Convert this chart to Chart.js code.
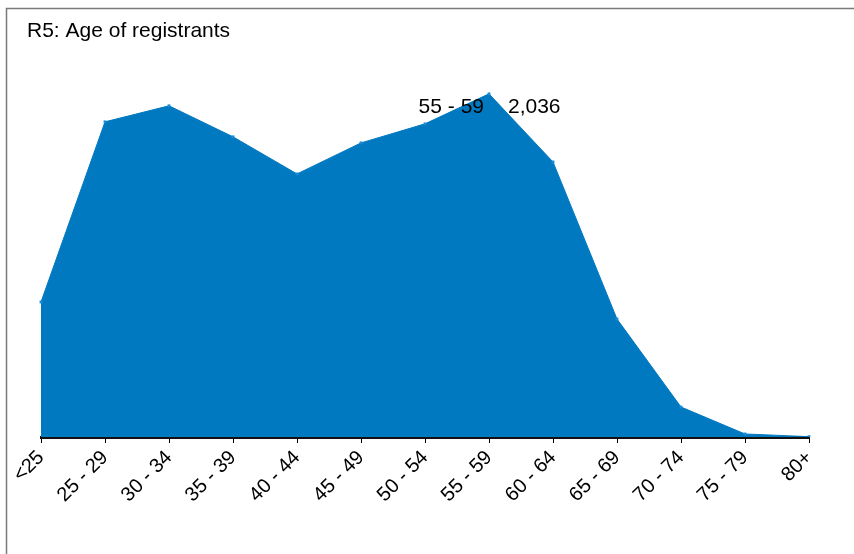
<!DOCTYPE html>
<html>
<head>
<meta charset="utf-8">
<script src="https://cdn.jsdelivr.net/npm/chart.js@4/dist/chart.umd.min.js"></script>
<style>
  html, body { margin: 0; padding: 0; background: #fff; }
  #wrap { position: absolute; left: 0; top: 0; width: 854px; height: 554px; }
</style>
</head>
<body>
<div id="wrap"><canvas id="ageChart" width="854" height="554"></canvas></div>
<script>
// age bands and registrant counts
const ageLabels = ['<25', '25 - 29', '30 - 34', '35 - 39', '40 - 44', '45 - 49', '50 - 54', '55 - 59', '60 - 64', '65 - 69', '70 - 74', '75 - 79', '80+'];
const registrants = [801, 1870, 1965, 1781, 1561, 1745, 1858, 2036, 1632, 700, 178, 18, 2];
const highlightIndex = 7;
const chartTitle = 'R5: Age of registrants';

const blue = '#0079c1';
const font = '"Liberation Sans", Arial, sans-serif';

// frame lines on the left and top edge, plus the title
const framePlugin = {
    id: 'frame',
    beforeDraw(chart) {
        const ctx = chart.ctx;
        ctx.save();
        ctx.strokeStyle = '#7a7a7a';
        ctx.lineWidth = 1.5;
        ctx.beginPath();
        ctx.moveTo(6.5, 554);
        ctx.lineTo(6.5, 8.5);
        ctx.lineTo(854, 8.5);
        ctx.stroke();
        ctx.font = '21px ' + font;
        ctx.fillStyle = '#000';
        ctx.textBaseline = 'middle';
        ctx.fillText(chartTitle, 27, 31);
        ctx.restore();
    },
};

// "55 - 59   2,036" label next to the peak
const peakLabel = {
    id: 'peakLabel',
    afterDatasetsDraw(chart) {
        const pt = chart.getDatasetMeta(0).data[highlightIndex];
        const ctx = chart.ctx;
        ctx.save();
        ctx.font = '21px ' + font;
        ctx.fillStyle = '#000';
        ctx.textBaseline = 'middle';
        ctx.textAlign = 'right';
        ctx.fillText(ageLabels[highlightIndex], pt.x - 5, pt.y + 13);
        ctx.textAlign = 'left';
        ctx.fillText(registrants[highlightIndex].toLocaleString('en-US'), pt.x + 19, pt.y + 13);
        ctx.restore();
    },
};

new Chart(document.getElementById('ageChart'), {
    type: 'line',
    data: {
        labels: ageLabels,
        datasets: [{
            data: registrants,
            fill: 'origin',
            backgroundColor: blue,
            borderColor: blue,
            borderWidth: 1,
            tension: 0,
            pointStyle: 'rect',
            pointRadius: 2,
            pointBackgroundColor: '#1a8ad6',
            pointBorderWidth: 0,
        }],
    },
    options: {
        responsive: false,
        animation: false,
        layout: {
            padding: { left: 41, right: 45, top: 62, bottom: 0 },
        },
        plugins: {
            legend: { display: false },
            tooltip: { enabled: false },
            title: { display: false },
        },
        scales: {
            x: {
                offset: false,
                z: 1,
                afterFit(scale) {
                    scale.height = 117;
                    scale.paddingLeft = 0;
                    scale.paddingRight = 0;
                },
                grid: {
                    display: true,
                    drawOnChartArea: false,
                    drawTicks: true,
                    tickLength: 6,
                    color: '#000',
                },
                border: { display: true, color: '#111', width: 3 },
                ticks: {
                    color: '#000',
                    maxRotation: 45,
                    minRotation: 45,
                    autoSkip: false,
                    padding: 3,
                    font: { family: font, size: 20 },
                },
            },
            y: {
                display: false,
                min: 0,
                max: 2225,
            },
        },
    },
    plugins: [framePlugin, peakLabel],
});
</script>
</body>
</html>
